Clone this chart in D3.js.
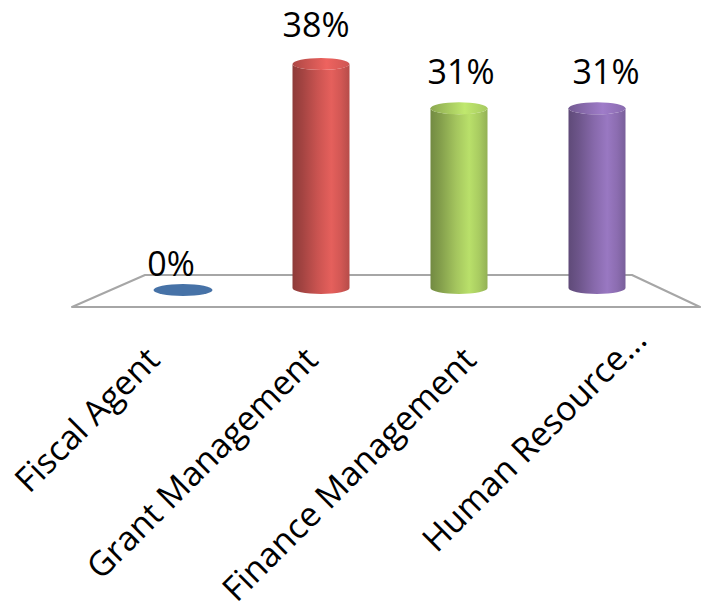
<!DOCTYPE html>
<html>
<head>
<meta charset="utf-8">
<script src="https://cdn.jsdelivr.net/npm/d3@7"></script>
<style>
  html, body { margin: 0; padding: 0; background: #ffffff; }
  svg { display: block; }
  text { font-family: "Open Sans", "Noto Sans", sans-serif; fill: #000; }
</style>
</head>
<body>
<svg id="chart" width="705" height="615"></svg>
<script>
// ---- data ----
const categories = ["Fiscal Agent", "Grant Management", "Finance Management", "Human Resource..."];
const values = [0, 38.4, 30.8, 30.8];           // percent
const valueLabels = ["0%", "38%", "31%", "31%"];
const colors = ["#4F81BD", "#C0504D", "#9BBB59", "#8064A2"];

// ---- layout ----
const W = 705, H = 615;
const svg = d3.select("#chart");
const defs = svg.append("defs");

// floor (3D plane in perspective)
const floor = { backY: 275, frontY: 307, backX: [145, 632], frontX: [72, 700] };

// scales
const xBar = d3.scaleBand().domain(categories).range([114, 666]).padding(0);
const xValLabel = d3.scaleBand().domain(categories).range([98.5, 678.5]).padding(0);
const xCat = d3.scalePoint().domain(categories).range([161, 636]);
const yMax = d3.max(values);
const y = d3.scaleLinear().domain([0, yMax]).range([288, 64]);
const yLabel = d3.scaleLinear().domain([0, yMax]).range([276, 37]);

const barW = 57, ry = 6;

// floor polygon
svg.append("path")
  .attr("d", d3.line()([
    [floor.backX[0], floor.backY],
    [floor.backX[1], floor.backY],
    [floor.frontX[1], floor.frontY],
    [floor.frontX[0], floor.frontY]
  ]) + "Z")
  .attr("fill", "#ffffff")
  .attr("stroke", "#A6A6A6")
  .attr("stroke-width", 2)
  .attr("stroke-linejoin", "round");

// gradients
colors.forEach((c, i) => {
  const base = d3.rgb(c);
  const g = defs.append("linearGradient").attr("id", "body" + i)
    .attr("x1", "0%").attr("x2", "100%").attr("y1", "0%").attr("y2", "0%");
  [[0, base.darker(0.85)], [0.18, base.darker(0.45)], [0.45, base.brighter(0.15)],
   [0.68, base.brighter(0.5)], [0.85, base.brighter(0.25)], [1, base.darker(0.15)]]
    .forEach(([o, col]) => g.append("stop").attr("offset", o).attr("stop-color", col.formatHex()));
  const t = defs.append("linearGradient").attr("id", "top" + i)
    .attr("x1", "0%").attr("x2", "100%").attr("y1", "0%").attr("y2", "0%");
  [[0, base.darker(0.3)], [0.6, base.brighter(0.6)], [1, base.brighter(0.2)]]
    .forEach(([o, col]) => t.append("stop").attr("offset", o).attr("stop-color", col.formatHex()));
});

// bars (cylinders)
const bars = svg.append("g").selectAll("g.bar")
  .data(categories.map((c, i) => ({ c, v: values[i], i })))
  .join("g").attr("class", "bar");

bars.each(function(d) {
  const g = d3.select(this);
  const cx = xBar(d.c) + xBar.bandwidth() / 2;
  const rx = barW / 2;
  const yB = y(0), yT = y(d.v);
  if (d.v > 0) {
    const p = d3.path();
    p.moveTo(cx - rx, yT);
    p.lineTo(cx - rx, yB);
    g.append("path")
      .attr("d", `M${cx - rx},${yT} L${cx - rx},${yB} A${rx},${ry} 0 0 0 ${cx + rx},${yB} L${cx + rx},${yT} A${rx},${ry} 0 0 1 ${cx - rx},${yT} Z`)
      .attr("fill", `url(#body${d.i})`);
    g.append("ellipse")
      .attr("cx", cx).attr("cy", yT).attr("rx", rx).attr("ry", ry)
      .attr("fill", `url(#top${d.i})`);
  } else {
    g.append("ellipse")
      .attr("cx", cx).attr("cy", yB + 2).attr("rx", rx + 1).attr("ry", ry)
      .attr("fill", d3.rgb(colors[d.i]).darker(0.35).formatHex());
  }
});

// value labels
svg.append("g").selectAll("text.val")
  .data(categories.map((c, i) => ({ c, v: values[i], t: valueLabels[i] })))
  .join("text").attr("class", "val")
  .attr("x", d => xValLabel(d.c) + xValLabel.bandwidth() / 2)
  .attr("y", d => yLabel(d.v))
  .attr("text-anchor", "middle")
  .attr("font-size", 34)
  .text(d => d.t);

// category axis (rotated labels)
const axis = svg.append("g")
  .attr("transform", "translate(0,362)")
  .call(d3.axisBottom(xCat).tickSize(0).tickPadding(0));
axis.select(".domain").remove();
axis.selectAll("text")
  .attr("y", 0).attr("dy", 0).attr("x", 0)
  .attr("text-anchor", "end")
  .attr("font-size", 34)
  .attr("font-family", "'Open Sans', 'Noto Sans', sans-serif")
  .attr("fill", "#000")
  .attr("transform", d => (d.endsWith("...") ? "translate(12,-20) " : "") + "rotate(-45)");
</script>
</body>
</html>
